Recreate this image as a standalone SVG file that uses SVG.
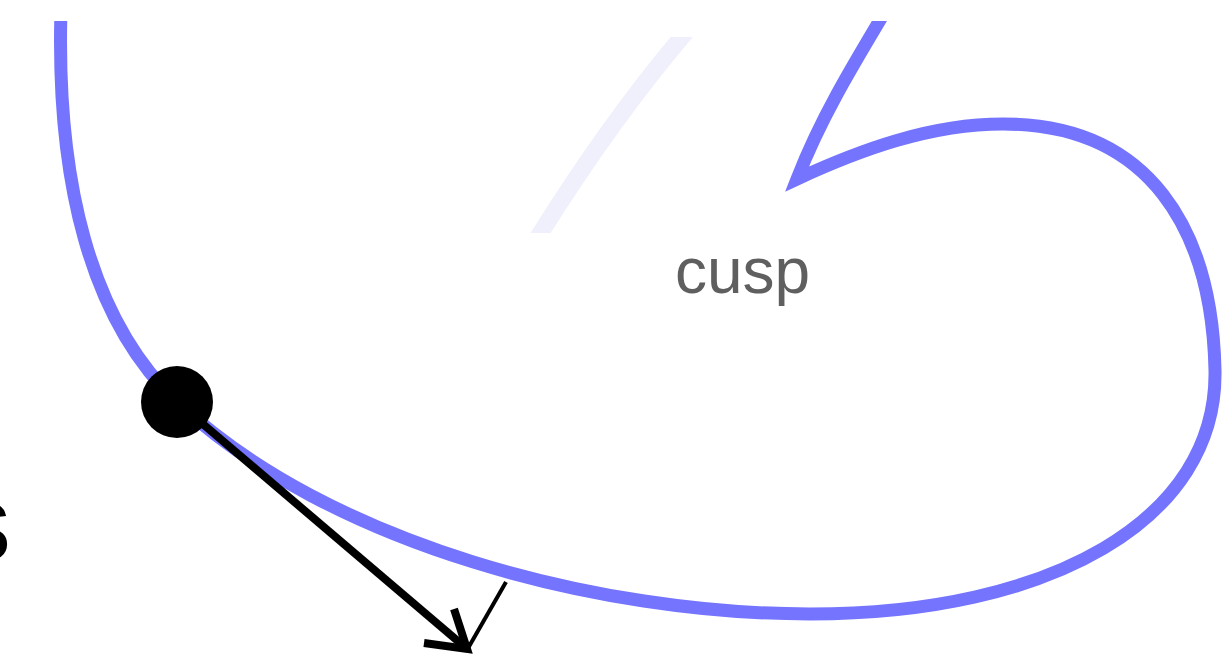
<svg xmlns="http://www.w3.org/2000/svg" width="1230" height="658" viewBox="0 0 1230 658">
<style>
.curve{fill:none;stroke:#7474ff;stroke-width:13}
.ghost{fill:none;stroke:#f0f0fd;stroke-width:17}
.vec{fill:none;stroke:#000;stroke-width:8}
.thin{fill:none;stroke:#000;stroke-width:4}
.lbl{font-family:"Liberation Sans",Arial,sans-serif;font-size:64px;fill:#5f5f5f}
.big{font-family:"Liberation Sans",Arial,sans-serif;font-size:108px;fill:#000}
</style>
<defs>
<clipPath id="cTop"><rect x="0" y="21" width="1230" height="637"/></clipPath>
<clipPath id="cGhost"><rect x="0" y="37" width="1230" height="196"/></clipPath>
</defs>
<rect width="1230" height="658" fill="#fff"/>
<g id="ghost" clip-path="url(#cGhost)">
<path class="ghost" d="M 530 250 Q 610 120 692 25"/>
</g>
<g id="curve" clip-path="url(#cTop)">
<path class="curve" d="M 61 10 C 56 180 90 320 177 402 C 330 545 600 614 810 614 C 1050 614 1218 520 1215 370 C 1212 230 1150 124 1003 124 C 930 124 860 150 797 179 C 820 120 850 70 886 10"/>
</g>
<g id="label-s"><text class="big" x="11" y="560" text-anchor="end">s</text></g>
<g id="label-cusp"><text class="lbl" x="675" y="293">cusp</text></g>
<g id="connectors">
<line class="thin" x1="506" y1="582" x2="467" y2="650"/>
<line class="vec" x1="177" y1="402" x2="466" y2="648"/>
<path class="vec" d="M 454 609 L 467 649 L 424 643" stroke-linejoin="miter"/>
</g>
<g id="point"><circle cx="177" cy="402" r="36" fill="#000"/></g>
</svg>
